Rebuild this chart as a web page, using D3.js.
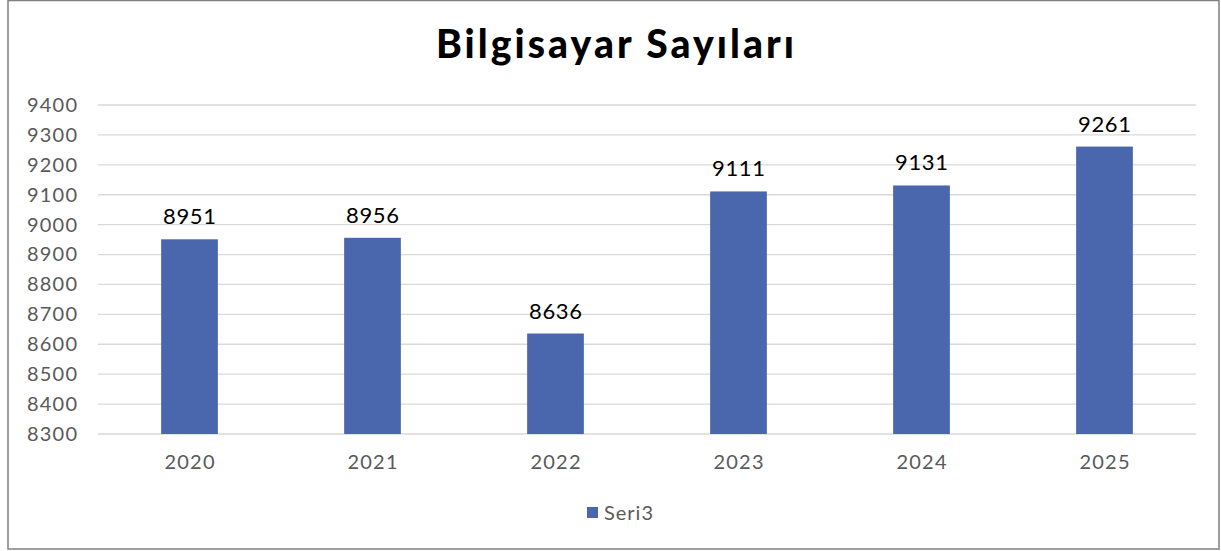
<!DOCTYPE html>
<html><head><meta charset="utf-8">
<script src="https://cdn.jsdelivr.net/npm/d3@7"></script>
<style>body{margin:0;background:#fff}svg{display:block}text{font-family:Lato,"Open Sans",sans-serif}</style>
</head><body>
<script>
const categories = ["2020","2021","2022","2023","2024","2025"];
const values = [8951, 8956, 8636, 9111, 9131, 9261];
const yTicks = [8300,8400,8500,8600,8700,8800,8900,9000,9100,9200,9300,9400];
const seriesName = "Seri3";
const title = "Bilgisayar Sayıları";

const W = 1221, H = 551;
const svg = d3.select("body").append("svg").attr("width", W).attr("height", H);
svg.append("rect").attr("x",8).attr("y",0.5).attr("width",1211).attr("height",548.5)
  .attr("fill","#fff").attr("stroke","#7f7f7f").attr("stroke-width",1.5);

const x = d3.scaleBand().domain(categories).range([98,1196]).paddingInner(0.69).paddingOuter(0.345);
const y = d3.scaleLinear().domain([8300,9400]).range([434,105]);

svg.append("text").attr("x",615).attr("y",58).attr("text-anchor","middle")
  .attr("font-size",39).attr("font-weight",900).attr("fill","#000")
  .attr("textLength",358).attr("lengthAdjust","spacing").text(title);

const g = svg.append("g");
g.selectAll("line.grid").data(yTicks).join("line")
  .attr("x1",98).attr("x2",1196).attr("y1",d=>y(d)).attr("y2",d=>y(d))
  .attr("stroke","#d9d9d9").attr("stroke-width",1.3);

const yAxis = d3.axisLeft(y).tickValues(yTicks).tickSize(0).tickPadding(0).tickFormat(d3.format("d"));
const ya = svg.append("g").attr("transform","translate(77,0)").call(yAxis);
ya.select(".domain").remove();
ya.selectAll("text").attr("font-size",20).attr("fill","#595959").attr("font-family","Lato,'Open Sans',sans-serif")
  .attr("textLength",50).attr("lengthAdjust","spacing");

const xAxis = d3.axisBottom(x).tickSize(0).tickPadding(0);
const xa = svg.append("g").attr("transform","translate(0,455)").call(xAxis);
xa.select(".domain").remove();
xa.selectAll("text").attr("font-size",20).attr("fill","#595959").attr("font-family","Lato,'Open Sans',sans-serif")
  .attr("textLength",50).attr("lengthAdjust","spacing");

g.selectAll("rect.bar").data(values).join("rect")
  .attr("x",(d,i)=>x(categories[i])).attr("width",x.bandwidth())
  .attr("y",d=>y(d)).attr("height",d=>y(8300)-y(d)).attr("fill","#4a67ae");

g.selectAll("text.lbl").data(values).join("text")
  .attr("x",(d,i)=>x(categories[i])+x.bandwidth()/2).attr("y",d=>y(d)-15)
  .attr("text-anchor","middle").attr("font-size",22).attr("fill","#000")
  .attr("textLength",53).attr("lengthAdjust","spacing").text(d=>d);

svg.append("rect").attr("x",587).attr("y",507).attr("width",11).attr("height",11).attr("fill","#4a67ae");
svg.append("text").attr("x",604).attr("y",520).attr("font-size",20).attr("fill","#595959")
  .attr("textLength",49).attr("lengthAdjust","spacing").text(seriesName);
</script>
</body></html>
